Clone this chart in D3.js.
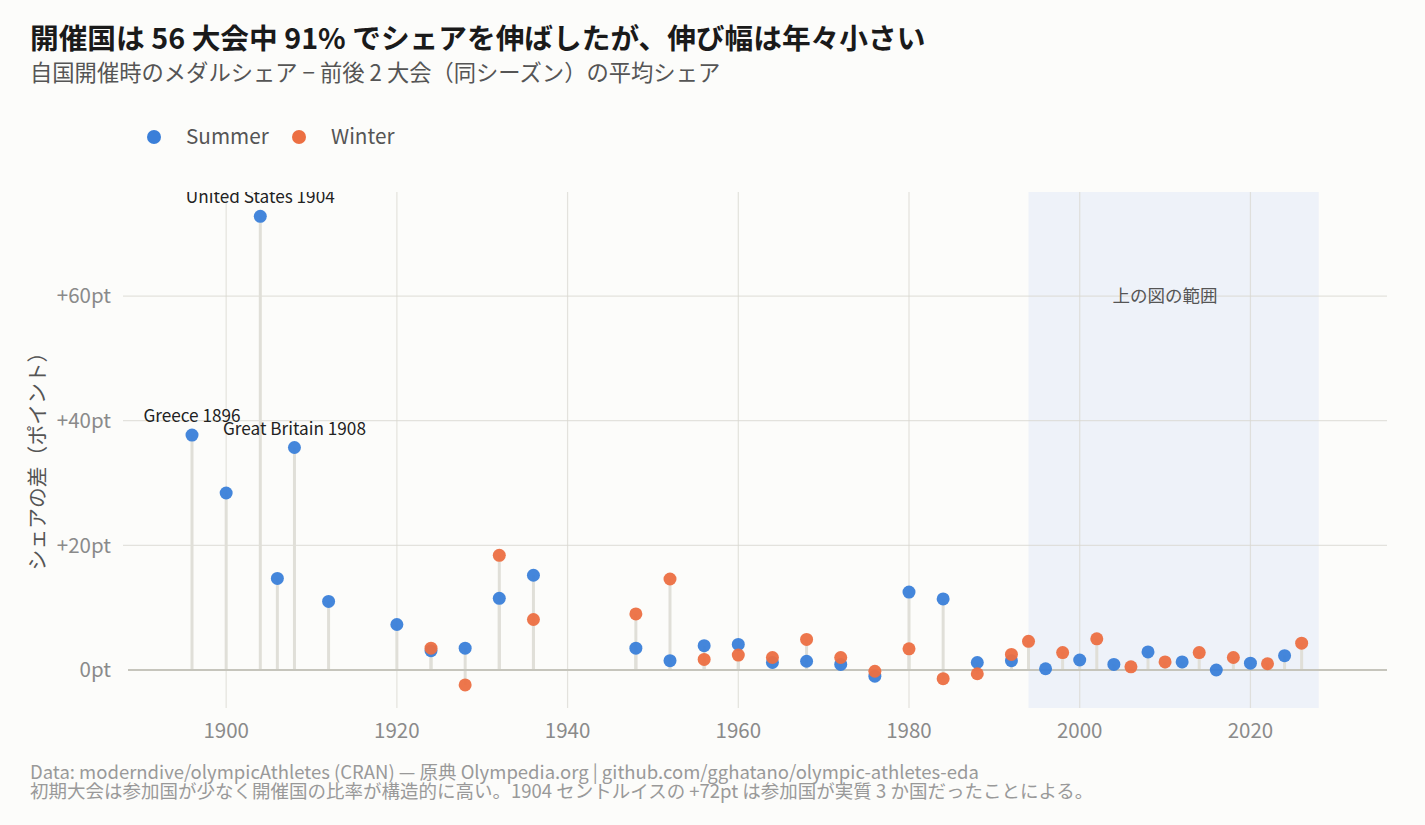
<!DOCTYPE html>
<html>
<head>
<meta charset="utf-8">
<script src="https://cdn.jsdelivr.net/npm/d3@7"></script>
<style>
  body { margin: 0; background: #fcfcfa; }
  svg { display: block; font-family: "Noto Sans CJK JP", "Noto Sans", sans-serif; }
</style>
</head>
<body>
<div id="chart"></div>
<script>
// host-nation share gain, by Games
const summerYears = [1896, 1900, 1904, 1906, 1908, 1912, 1920, 1924, 1928, 1932, 1936, 1948, 1952, 1956, 1960, 1964, 1968, 1972, 1976, 1980, 1984, 1988, 1992, 1996, 2000, 2004, 2008, 2012, 2016, 2020, 2024]
const summerValues = [37.7, 28.4, 72.8, 14.7, 35.7, 11.0, 7.3, 3.1, 3.5, 11.5, 15.2, 3.5, 1.5, 3.9, 4.1, 1.2, 1.4, 0.9, -1.0, 12.5, 11.4, 1.2, 1.5, 0.2, 1.6, 0.9, 2.9, 1.3, 0.0, 1.1, 2.3]
const winterYears = [1924, 1928, 1932, 1936, 1948, 1952, 1956, 1960, 1964, 1968, 1972, 1976, 1980, 1984, 1988, 1992, 1994, 1998, 2002, 2006, 2010, 2014, 2018, 2022, 2026]
const winterValues = [3.5, -2.4, 18.4, 8.1, 9.0, 14.6, 1.7, 2.4, 2.0, 4.9, 2.0, -0.2, 3.4, -1.4, -0.6, 2.5, 4.6, 2.8, 5.0, 0.5, 1.3, 2.8, 2.0, 1.0, 4.3]
const labelTexts = ["Greece 1896", "United States 1904", "Great Britain 1908"]
const labelYears = [1896, 1904, 1908]
const xTicks = [1900, 1920, 1940, 1960, 1980, 2000, 2020]
const yTicks = [0, 20, 40, 60]
const rangeBand = [1994, 2028]

const width = 1425
const height = 825
const margin = {top: 192, right: 38, bottom: 117, left: 128}
const colors = {Summer: "#3a7fd9", Winter: "#ec6f42"}

const x = d3.scaleLinear().domain([1888.5, 2036]).range([margin.left, width - margin.right])
const y = d3.scaleLinear().domain([-6.1, 76.7]).range([height - margin.bottom, margin.top])

const svg = d3.select("#chart").append("svg")
  .attr("width", width)
  .attr("height", height)

svg.append("rect").attr("width", width).attr("height", height).attr("fill", "#fcfcfa")

// titles
svg.append("text")
  .attr("x", 30).attr("y", 49)
  .attr("font-size", 28.7).attr("font-weight", 700).attr("fill", "#1a1a1a")
  .text("開催国は 56 大会中 91% でシェアを伸ばしたが、伸び幅は年々小さい")
svg.append("text")
  .attr("x", 30).attr("y", 81)
  .attr("font-size", 22.3).attr("fill", "#555")
  .text("自国開催時のメダルシェア − 前後 2 大会（同シーズン）の平均シェア")

// legend
const legend = svg.append("g")
  .selectAll("g")
  .data(["Summer", "Winter"])
  .join("g")
  .attr("transform", (d, i) => `translate(${154 + i * 145},137)`)
legend.append("circle").attr("r", 7).attr("fill", d => colors[d])
legend.append("text")
  .attr("x", 32).attr("dy", "0.35em")
  .attr("font-size", 20.7).attr("fill", "#555")
  .text(d => d)

svg.append("defs").append("clipPath").attr("id", "plot-clip")
  .append("rect")
  .attr("x", margin.left).attr("y", margin.top)
  .attr("width", width - margin.left - margin.right)
  .attr("height", height - margin.top - margin.bottom)

// shaded band = range of the chart above
svg.append("rect")
  .attr("x", x(rangeBand[0])).attr("y", margin.top)
  .attr("width", x(rangeBand[1]) - x(rangeBand[0]))
  .attr("height", height - margin.top - margin.bottom)
  .attr("fill", "#eef2f9")

// grid
svg.append("g")
  .selectAll("line")
  .data(xTicks)
  .join("line")
  .attr("x1", d => x(d)).attr("x2", d => x(d))
  .attr("y1", margin.top).attr("y2", height - margin.bottom)
  .attr("stroke", "#d8d7d0").attr("stroke-opacity", 0.7).attr("stroke-width", 1.2)
svg.append("g")
  .selectAll("line")
  .data(yTicks.filter(d => d !== 0))
  .join("line")
  .attr("x1", margin.left - 5).attr("x2", width - margin.right)
  .attr("y1", d => y(d)).attr("y2", d => y(d))
  .attr("stroke", "#d8d7d0").attr("stroke-opacity", 0.7).attr("stroke-width", 1.2)

svg.append("text")
  .attr("x", x(2010)).attr("y", y(60)).attr("dy", "0.35em")
  .attr("text-anchor", "middle")
  .attr("font-size", 17.5).attr("fill", "#555")
  .text("上の図の範囲")

// axes labels
svg.append("g")
  .selectAll("text")
  .data(yTicks)
  .join("text")
  .attr("x", 111).attr("y", d => y(d)).attr("dy", "0.35em")
  .attr("text-anchor", "end")
  .attr("font-size", 20.5).attr("fill", "#8a8a8a")
  .text(d => (d > 0 ? "+" : "") + d + "pt")
svg.append("g")
  .selectAll("text")
  .data(xTicks)
  .join("text")
  .attr("x", d => x(d)).attr("y", 731).attr("dy", "0.35em")
  .attr("text-anchor", "middle")
  .attr("font-size", 20.5).attr("fill", "#8a8a8a")
  .text(d => d)
svg.append("text")
  .attr("transform", "translate(38,456) rotate(-90)")
  .attr("text-anchor", "middle").attr("dy", "0.35em")
  .attr("font-size", 20.8).attr("fill", "#555")
  .text("シェアの差（ポイント）")

const points = summerYears.map((yr, i) => ({year: yr, value: summerValues[i], season: "Summer"}))
  .concat(winterYears.map((yr, i) => ({year: yr, value: winterValues[i], season: "Winter"})))

// sticks
svg.append("g")
  .selectAll("line")
  .data(points)
  .join("line")
  .attr("x1", d => x(d.year)).attr("x2", d => x(d.year))
  .attr("y1", y(0)).attr("y2", d => y(d.value))
  .attr("stroke", "#e0dfd8").attr("stroke-width", 3)

svg.append("line")
  .attr("x1", margin.left).attr("x2", width - margin.right)
  .attr("y1", y(0)).attr("y2", y(0))
  .attr("stroke", "#c6c5bc").attr("stroke-width", 2)

svg.append("g")
  .selectAll("circle")
  .data(points)
  .join("circle")
  .attr("cx", d => x(d.year)).attr("cy", d => y(d.value))
  .attr("r", 6.5)
  .attr("fill", d => colors[d.season])
  .attr("fill-opacity", 0.95)

// callouts for the early Games
svg.append("g")
  .attr("clip-path", "url(#plot-clip)")
  .selectAll("text")
  .data(labelYears)
  .join("text")
  .attr("x", d => x(d))
  .attr("y", d => y(summerValues[summerYears.indexOf(d)]) - 13)
  .attr("text-anchor", "middle")
  .attr("font-size", 17.2).attr("fill", "#222")
  .text((d, i) => labelTexts[i])

// footer
svg.append("text")
  .attr("x", 30).attr("y", 779)
  .attr("font-size", 18.5).attr("fill", "#999")
  .text("Data: moderndive/olympicAthletes (CRAN) — 原典 Olympedia.org | github.com/gghatano/olympic-athletes-eda")
svg.append("text")
  .attr("x", 30).attr("y", 798)
  .attr("font-size", 18.5).attr("fill", "#999")
  .text("初期大会は参加国が少なく開催国の比率が構造的に高い。1904 セントルイスの +72pt は参加国が実質 3 か国だったことによる。")
</script>
</body>
</html>
